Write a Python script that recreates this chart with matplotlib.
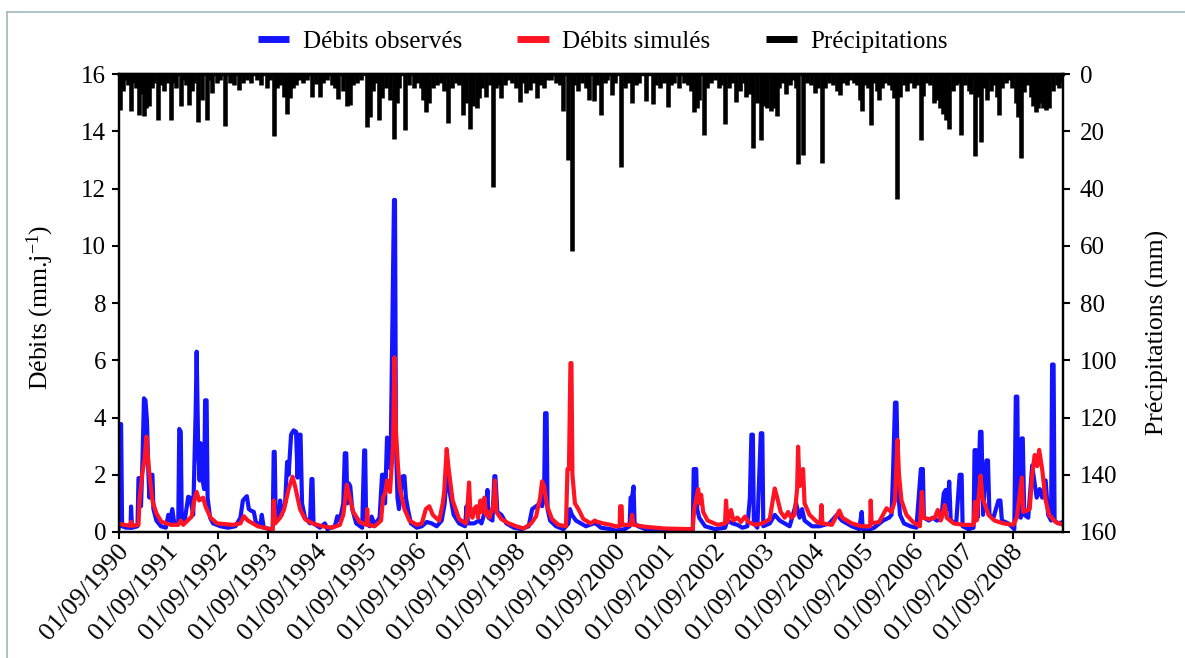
import numpy as np
import pandas as pd
import matplotlib
matplotlib.use('Agg')
import matplotlib.pyplot as plt
from matplotlib.lines import Line2D
from matplotlib.transforms import ScaledTranslation

plt.rcParams['font.family'] = ['Liberation Serif', 'DejaVu Serif']
plt.rcParams['mathtext.default'] = 'regular'

# Temps en années depuis le 01/09/1990
t_obs = [0.00, 0.02, 0.05, 0.07, 0.15, 0.24, 0.25, 0.27, 0.38, 0.40, 0.43, 0.45, 0.48, 0.51, 0.54,
         0.57, 0.60, 0.62, 0.66, 0.68, 0.70, 0.76, 0.85, 0.95, 1.00, 1.03, 1.08, 1.12, 1.20, 1.22,
         1.25, 1.27, 1.33, 1.40, 1.44, 1.50, 1.55, 1.57, 1.60, 1.63, 1.65, 1.68, 1.72, 1.74, 1.77,
         1.79, 1.84, 1.90, 2.05, 2.20, 2.35, 2.45, 2.50, 2.55, 2.58, 2.62, 2.66, 2.72, 2.76, 2.85,
         2.88, 2.92, 3.05, 3.10, 3.12, 3.14, 3.16, 3.22, 3.25, 3.28, 3.35, 3.39, 3.42, 3.47, 3.52,
         3.57, 3.60, 3.63, 3.66, 3.69, 3.75, 3.85, 3.88, 3.90, 3.92, 4.05, 4.15, 4.20, 4.35, 4.40,
         4.45, 4.52, 4.55, 4.58, 4.60, 4.63, 4.66, 4.70, 4.78, 4.90, 4.94, 4.96, 4.98, 5.05, 5.09,
         5.15, 5.25, 5.30, 5.33, 5.36, 5.40, 5.43, 5.47, 5.50, 5.54, 5.56, 5.58, 5.61, 5.64, 5.68,
         5.72, 5.75, 5.78, 5.82, 5.88, 6.00, 6.10, 6.20, 6.30, 6.40, 6.50, 6.56, 6.60, 6.64, 6.68,
         6.74, 6.85, 6.97, 7.00, 7.03, 7.15, 7.25, 7.30, 7.40, 7.42, 7.44, 7.52, 7.56, 7.58, 7.62,
         7.70, 7.80, 7.95, 8.10, 8.25, 8.32, 8.40, 8.48, 8.52, 8.56, 8.58, 8.61, 8.63, 8.68, 8.80,
         8.95, 9.05, 9.08, 9.12, 9.20, 9.40, 9.56, 9.60, 9.70, 9.90, 10.00, 10.18, 10.28, 10.30, 10.33,
         10.36, 10.38, 10.45, 10.60, 10.90, 11.55, 11.57, 11.62, 11.64, 11.68, 11.80, 12.00, 12.20, 12.25, 12.35,
         12.45, 12.55, 12.65, 12.70, 12.73, 12.76, 12.78, 12.85, 12.92, 12.95, 12.97, 13.10, 13.20, 13.30, 13.40,
         13.50, 13.55, 13.63, 13.70, 13.75, 13.80, 13.95, 14.10, 14.30, 14.45, 14.55, 14.75, 14.90, 14.95, 14.97,
         15.05, 15.20, 15.38, 15.50, 15.55, 15.58, 15.62, 15.65, 15.68, 15.72, 15.80, 15.93, 16.05, 16.14, 16.18,
         16.20, 16.30, 16.38, 16.46, 16.55, 16.60, 16.64, 16.68, 16.71, 16.74, 16.85, 16.92, 16.96, 16.98, 17.10,
         17.20, 17.22, 17.25, 17.28, 17.33, 17.36, 17.39, 17.46, 17.49, 17.52, 17.60, 17.70, 17.74, 17.77, 17.90,
         18.02, 18.05, 18.08, 18.10, 18.15, 18.17, 18.19, 18.22, 18.30, 18.38, 18.42, 18.47, 18.53, 18.58, 18.65,
         18.70, 18.76, 18.78, 18.81, 18.83, 18.90, 19.00]
q_obs = [0.15, 3.77, 3.77, 0.20, 0.15, 0.15, 0.89, 0.15, 0.20, 1.88, 1.88, 0.90, 2.50, 4.67, 4.60,
         3.90, 2.00, 1.20, 2.00, 2.00, 0.80, 0.40, 0.20, 0.15, 0.60, 0.30, 0.80, 0.30, 0.30, 3.60,
         3.50, 0.50, 0.40, 1.23, 1.20, 0.60, 4.20, 6.30, 3.00, 1.80, 3.10, 1.90, 1.50, 4.60, 4.60,
         1.20, 0.50, 0.30, 0.20, 0.15, 0.20, 0.50, 1.10, 1.20, 1.25, 0.80, 0.75, 0.70, 0.35, 0.20,
         0.60, 0.15, 0.10, 0.15, 2.80, 2.80, 0.40, 0.50, 1.10, 0.60, 1.00, 2.45, 2.00, 3.40, 3.55,
         3.50, 1.90, 3.40, 3.40, 1.00, 0.50, 0.30, 1.85, 1.85, 0.30, 0.15, 0.30, 0.10, 0.20, 0.55,
         0.40, 1.00, 2.75, 2.75, 1.00, 1.70, 1.60, 0.80, 0.30, 0.15, 2.85, 2.85, 0.30, 0.20, 0.54,
         0.25, 0.50, 2.00, 2.00, 1.00, 3.30, 3.20, 2.20, 6.30, 11.60, 11.60, 3.00, 1.20, 0.80, 1.50,
         1.95, 1.95, 1.20, 0.80, 0.30, 0.15, 0.20, 0.35, 0.30, 0.20, 0.40, 1.00, 2.10, 1.60, 1.20,
         0.60, 0.30, 0.20, 0.90, 0.30, 0.30, 0.40, 0.30, 0.90, 1.47, 0.50, 0.40, 1.95, 1.95, 0.70,
         0.60, 0.30, 0.15, 0.10, 0.20, 0.80, 0.90, 1.00, 0.90, 1.20, 4.15, 4.15, 0.80, 0.40, 0.20,
         0.10, 0.30, 0.80, 0.60, 0.40, 0.20, 0.30, 0.30, 0.15, 0.10, 0.05, 0.10, 0.20, 1.20, 1.20,
         1.59, 0.30, 0.20, 0.10, 0.00, 0.00, 2.20, 2.20, 0.80, 0.50, 0.20, 0.10, 0.15, 0.40, 0.30,
         0.25, 0.15, 0.20, 1.20, 3.40, 3.40, 0.30, 0.15, 3.45, 3.45, 0.20, 0.30, 0.60, 0.40, 0.30,
         0.20, 0.50, 1.00, 0.50, 0.80, 0.40, 0.20, 0.20, 0.30, 0.60, 0.40, 0.20, 0.10, 0.70, 0.10,
         0.05, 0.15, 0.40, 0.50, 0.60, 2.05, 4.52, 4.52, 1.50, 0.60, 0.30, 0.20, 0.15, 2.20, 2.20,
         0.50, 0.40, 0.50, 0.40, 0.45, 1.35, 1.47, 0.80, 1.76, 0.40, 0.30, 2.00, 2.00, 0.20, 0.10,
         0.15, 2.86, 2.86, 0.50, 3.50, 3.50, 0.60, 2.50, 2.50, 0.60, 0.50, 1.10, 1.10, 0.40, 0.30,
         0.10, 4.73, 4.73, 0.60, 0.50, 3.27, 3.27, 0.60, 0.50, 2.33, 1.80, 1.20, 1.50, 1.20, 1.80,
         0.60, 0.40, 5.85, 5.85, 0.40, 0.30, 0.35]

t_sim = [0.00, 0.10, 0.24, 0.25, 0.28, 0.40, 0.42, 0.48, 0.52, 0.56, 0.58, 0.62, 0.68, 0.76, 0.86,
         1.05, 1.20, 1.25, 1.30, 1.47, 1.52, 1.57, 1.62, 1.70, 1.75, 1.85, 1.98, 2.30, 2.45, 2.52,
         2.60, 2.80, 3.00, 3.10, 3.12, 3.15, 3.25, 3.33, 3.42, 3.50, 3.55, 3.65, 3.75, 3.90, 4.10,
         4.30, 4.45, 4.52, 4.55, 4.59, 4.65, 4.72, 4.85, 4.99, 5.00, 5.02, 5.15, 5.28, 5.32, 5.36,
         5.40, 5.46, 5.52, 5.55, 5.58, 5.62, 5.66, 5.75, 5.85, 6.00, 6.10, 6.18, 6.25, 6.32, 6.38,
         6.45, 6.52, 6.55, 6.60, 6.64, 6.72, 6.85, 6.98, 7.00, 7.05, 7.08, 7.12, 7.15, 7.20, 7.23,
         7.28, 7.31, 7.36, 7.39, 7.43, 7.46, 7.55, 7.57, 7.60, 7.70, 7.85, 8.00, 8.15, 8.30, 8.40,
         8.48, 8.52, 8.56, 8.62, 8.72, 8.85, 9.00, 9.03, 9.06, 9.09, 9.11, 9.13, 9.18, 9.25, 9.35,
         9.50, 9.58, 9.62, 9.75, 9.90, 10.00, 10.08, 10.09, 10.12, 10.13, 10.30, 10.33, 10.36, 10.60, 11.00,
         11.55, 11.58, 11.62, 11.66, 11.69, 11.72, 11.76, 11.85, 12.05, 12.20, 12.22, 12.25, 12.32, 12.37, 12.45,
         12.52, 12.60, 12.67, 12.80, 12.95, 13.10, 13.15, 13.20, 13.25, 13.32, 13.40, 13.47, 13.53, 13.60, 13.65,
         13.67, 13.70, 13.77, 13.80, 13.90, 14.05, 14.12, 14.14, 14.16, 14.35, 14.50, 14.56, 14.75, 14.95, 15.12,
         15.13, 15.15, 15.30, 15.45, 15.55, 15.62, 15.67, 15.70, 15.75, 15.85, 15.98, 16.12, 16.16, 16.19, 16.30,
         16.42, 16.48, 16.54, 16.62, 16.66, 16.80, 17.00, 17.20, 17.23, 17.26, 17.34, 17.38, 17.50, 17.62, 17.80,
         18.00, 18.07, 18.17, 18.20, 18.33, 18.38, 18.43, 18.48, 18.52, 18.58, 18.65, 18.72, 18.85, 19.00]
q_sim = [0.30, 0.25, 0.22, 0.36, 0.22, 0.25, 1.10, 2.10, 2.50, 3.33, 2.80, 2.00, 1.10, 0.65, 0.36,
         0.25, 0.25, 0.40, 0.25, 0.54, 1.10, 1.40, 1.10, 1.20, 0.88, 0.50, 0.30, 0.25, 0.30, 0.55,
         0.40, 0.20, 0.12, 0.07, 1.10, 0.30, 0.50, 0.80, 1.50, 1.93, 1.60, 0.80, 0.45, 0.30, 0.20,
         0.15, 0.25, 0.60, 1.00, 1.65, 1.20, 0.70, 0.35, 0.25, 0.80, 0.25, 0.20, 0.40, 1.20, 1.35,
         1.80, 1.40, 3.00, 6.10, 3.50, 2.30, 1.50, 0.80, 0.40, 0.25, 0.30, 0.80, 0.90, 0.60, 0.50,
         0.40, 1.00, 1.40, 2.90, 2.20, 1.10, 0.45, 0.30, 0.35, 1.73, 0.60, 0.50, 0.80, 0.90, 0.50,
         1.10, 0.70, 1.20, 0.60, 0.70, 0.50, 1.00, 1.80, 0.70, 0.45, 0.30, 0.20, 0.12, 0.30, 0.55,
         1.20, 1.77, 1.60, 0.90, 0.45, 0.25, 0.20, 2.20, 2.20, 5.90, 5.90, 2.00, 1.00, 0.80, 0.45,
         0.30, 0.40, 0.36, 0.30, 0.25, 0.20, 0.20, 0.90, 0.90, 0.25, 0.25, 0.60, 0.25, 0.18, 0.12,
         0.10, 0.80, 1.15, 1.50, 1.00, 1.30, 0.70, 0.40, 0.25, 0.30, 1.10, 0.35, 0.77, 0.40, 0.50,
         0.35, 0.54, 0.35, 0.25, 0.30, 0.45, 1.00, 1.52, 1.20, 0.70, 0.50, 0.70, 0.50, 0.60, 1.50,
         2.98, 1.60, 2.20, 1.00, 0.60, 0.35, 0.30, 0.94, 0.30, 0.25, 0.75, 0.50, 0.30, 0.20, 0.20,
         1.10, 0.30, 0.35, 0.83, 0.70, 1.10, 3.22, 2.00, 1.10, 0.60, 0.35, 0.20, 1.40, 0.50, 0.45,
         0.50, 0.77, 0.40, 0.94, 0.50, 0.30, 0.25, 0.25, 1.05, 0.40, 1.97, 1.20, 0.60, 0.40, 0.30,
         0.25, 0.50, 1.90, 0.70, 0.80, 2.00, 2.69, 2.30, 2.87, 2.20, 1.10, 0.60, 0.35, 0.25]

t_pluie = [0.02, 0.05, 0.09, 0.13, 0.18, 0.25, 0.30, 0.35, 0.42, 0.47, 0.52, 0.56, 0.62, 0.67, 0.72,
           0.79, 0.85, 0.92, 0.98, 1.05, 1.10, 1.15, 1.25, 1.30, 1.35, 1.41, 1.47, 1.52, 1.59, 1.68,
           1.77, 1.82, 1.88, 1.98, 2.04, 2.14, 2.24, 2.32, 2.42, 2.50, 2.58, 2.66, 2.78, 2.86, 2.98,
           3.05, 3.13, 3.18, 3.25, 3.32, 3.39, 3.44, 3.50, 3.56, 3.63, 3.70, 3.78, 3.90, 3.98, 4.05,
           4.12, 4.20, 4.30, 4.36, 4.42, 4.52, 4.59, 4.65, 4.72, 4.80, 4.88, 4.99, 5.05, 5.12, 5.18,
           5.24, 5.30, 5.37, 5.45, 5.55, 5.61, 5.65, 5.77, 5.85, 5.95, 6.00, 6.08, 6.13, 6.19, 6.25,
           6.32, 6.40, 6.48, 6.55, 6.62, 6.70, 6.78, 6.85, 6.93, 6.98, 7.07, 7.12, 7.20, 7.25, 7.32,
           7.40, 7.48, 7.54, 7.60, 7.65, 7.70, 7.78, 7.84, 7.92, 8.00, 8.07, 8.13, 8.20, 8.28, 8.35,
           8.42, 8.48, 8.55, 8.62, 8.70, 8.80, 8.88, 8.95, 9.05, 9.12, 9.17, 9.25, 9.33, 9.40, 9.46,
           9.56, 9.63, 9.71, 9.78, 9.83, 9.92, 9.98, 10.10, 10.18, 10.24, 10.32, 10.40, 10.46, 10.62, 10.75,
           10.82, 10.90, 10.98, 11.05, 11.12, 11.18, 11.28, 11.38, 11.45, 11.52, 11.58, 11.63, 11.68, 11.77, 11.83,
           11.92, 12.00, 12.07, 12.12, 12.20, 12.27, 12.35, 12.42, 12.50, 12.58, 12.63, 12.70, 12.77, 12.85, 12.92,
           12.98, 13.05, 13.12, 13.18, 13.24, 13.28, 13.36, 13.43, 13.50, 13.57, 13.62, 13.67, 13.77, 13.85, 13.92,
           14.00, 14.08, 14.15, 14.22, 14.30, 14.38, 14.45, 14.51, 14.58, 14.66, 14.72, 14.80, 14.86, 14.92, 14.96,
           15.02, 15.07, 15.13, 15.20, 15.26, 15.30, 15.36, 15.42, 15.50, 15.55, 15.60, 15.66, 15.73, 15.80, 15.86,
           15.93, 16.00, 16.06, 16.14, 16.18, 16.25, 16.32, 16.40, 16.46, 16.52, 16.58, 16.65, 16.71, 16.78, 16.85,
           16.90, 16.95, 17.02, 17.10, 17.15, 17.23, 17.29, 17.35, 17.42, 17.48, 17.55, 17.62, 17.68, 17.72, 17.78,
           17.85, 17.92, 17.98, 18.05, 18.10, 18.15, 18.22, 18.28, 18.35, 18.40, 18.45, 18.50, 18.55, 18.60, 18.65,
           18.72, 18.80, 18.87, 18.92, 18.97]
p_pluie = [12.5, 3.0, 6.0, 2.0, 4.0, 12.8, 3.0, 5.0, 14.2, 7.0, 14.8, 11.9, 11.3, 5.0, 3.0,
           16.2, 4.0, 6.0, 3.0, 16.0, 3.0, 4.9, 11.0, 2.0, 4.0, 10.7, 6.0, 3.0, 16.8, 9.0,
           16.2, 2.0, 6.6, 3.0, 2.0, 18.0, 3.0, 4.0, 5.5, 3.0, 2.0, 3.0, 2.0, 4.0, 5.0,
           2.0, 21.8, 5.0, 4.0, 8.0, 13.9, 8.4, 5.0, 4.0, 2.0, 3.0, 2.0, 8.2, 3.5, 8.0,
           3.0, 2.0, 4.0, 5.0, 8.6, 6.0, 11.3, 10.7, 4.0, 3.0, 2.0, 18.6, 15.1, 6.0, 3.0,
           16.0, 8.4, 5.0, 9.0, 22.7, 10.0, 5.0, 19.7, 4.0, 5.0, 3.0, 5.0, 9.0, 13.3, 10.0,
           5.0, 4.0, 3.0, 6.0, 17.1, 5.0, 3.0, 4.0, 14.2, 10.0, 19.2, 11.0, 11.9, 8.4, 5.0,
           8.0, 4.0, 39.3, 5.0, 4.0, 8.4, 4.0, 2.0, 3.0, 5.0, 9.6, 3.0, 6.6, 5.5, 3.0,
           8.4, 4.0, 5.0, 2.0, 2.0, 3.0, 4.0, 12.8, 30.0, 61.8, 4.0, 6.0, 3.0, 5.0, 9.0,
           9.3, 4.0, 14.2, 3.0, 2.0, 7.5, 3.0, 32.6, 5.0, 3.0, 10.1, 4.0, 3.0, 9.3, 10.5,
           4.0, 5.0, 3.0, 11.5, 4.0, 3.0, 5.0, 3.0, 4.0, 6.0, 13.4, 12.0, 9.0, 21.2, 5.0,
           3.0, 2.0, 5.0, 4.0, 17.5, 5.0, 3.0, 9.6, 6.0, 3.0, 8.0, 7.0, 25.9, 10.0, 23.0,
           11.0, 12.0, 13.0, 12.0, 14.8, 5.0, 3.0, 7.0, 4.0, 2.0, 5.0, 31.5, 28.4, 3.0, 4.0,
           6.5, 5.0, 31.1, 5.0, 3.0, 4.0, 6.0, 7.5, 3.0, 4.0, 2.0, 3.0, 4.0, 9.0, 12.8,
           4.0, 5.0, 17.7, 3.0, 6.0, 9.0, 5.0, 3.0, 4.0, 5.5, 8.5, 43.7, 8.2, 4.0, 5.8,
           3.0, 5.0, 4.0, 23.0, 7.6, 3.0, 4.0, 10.1, 9.0, 12.0, 14.0, 16.0, 19.2, 6.0, 4.0,
           3.0, 21.4, 4.0, 6.0, 7.0, 28.8, 8.0, 23.8, 5.0, 9.0, 6.0, 4.0, 8.0, 14.2, 5.0,
           3.0, 2.0, 5.0, 10.0, 15.0, 29.4, 6.4, 4.0, 8.0, 11.0, 13.1, 12.0, 10.0, 11.8, 12.5,
           11.9, 6.0, 4.0, 5.0, 3.0]

annees = list(range(1990, 2009))
etiquettes = ['01/09/%d' % a for a in annees]

origine = pd.Timestamp('1990-09-01')


def en_dates(t):
    return origine + pd.to_timedelta(np.array(t) * 365.25, unit='D')


bleu = '#1414ff'
rouge = '#ff1424'

fig = plt.figure(figsize=(11.85, 6.58), dpi=100)
ax = fig.add_axes([0.1001, 0.1915, 0.797, 0.696])

ax.plot(en_dates(t_obs), q_obs, color=bleu, lw=3.0)
ax.plot(en_dates(t_sim), q_sim, color=rouge, lw=3.0)

ax2 = ax.twinx()
ax2.vlines(en_dates(t_pluie), 0, p_pluie, color='black', lw=3.3)
ax2.set_ylim(160, 0)
ax2.set_yticks(range(0, 161, 20))

ax.set_xlim(pd.Timestamp('1990-09-01'), pd.Timestamp('2009-09-01'))
ax.set_ylim(0, 16)
ax.set_yticks(range(0, 17, 2))
ax.set_xticks([pd.Timestamp('%d-09-01' % a) for a in annees])
ax.set_xticklabels(etiquettes)

for a in (ax, ax2):
    for s in a.spines.values():
        s.set_linewidth(1.6)
    a.tick_params(direction='out', length=5, width=1.5, labelsize=18)
ax.spines['top'].set_linewidth(2.5)
ax.tick_params(axis='y', pad=4)
ax2.tick_params(axis='y', pad=7)
ax.tick_params(axis='x', pad=6, labelsize=19)
decalage = ScaledTranslation(6 / 100, 0, fig.dpi_scale_trans)
for lab in ax.get_xticklabels():
    lab.set_rotation(48)
    lab.set_ha('right')
    lab.set_va('center')
    lab.set_rotation_mode('anchor')
    lab.set_transform(lab.get_transform() + decalage)

ax.set_ylabel('Débits (mm.j$^{-1}$)', fontsize=18.5)
ax.yaxis.set_label_coords(-0.066, 0.49)
ax2.set_ylabel('Précipitations (mm)', fontsize=18.5)
ax2.yaxis.set_label_coords(1.088, 0.435)

poignees = [Line2D([], [], color=bleu, lw=5, solid_capstyle='butt'),
            Line2D([], [], color=rouge, lw=5, solid_capstyle='butt'),
            Line2D([], [], color='black', lw=5, solid_capstyle='butt')]
fig.legend(poignees, ['Débits observés', 'Débits simulés', 'Précipitations'],
           loc='center', bbox_to_anchor=(0.509, 0.937), ncol=3, frameon=False,
           fontsize=18, handlelength=1.25, handletextpad=0.55, columnspacing=2.2)

# cadre gris clair autour de la figure
fig.add_artist(Line2D([7 / 1185, 1], [1 - 12 / 658] * 2, transform=fig.transFigure,
                      color='#a3b8bd', lw=1.2))
fig.add_artist(Line2D([7 / 1185] * 2, [0, 1 - 12 / 658], transform=fig.transFigure,
                      color='#a3b8bd', lw=1.2))

fig.savefig('out.png', dpi=100)
